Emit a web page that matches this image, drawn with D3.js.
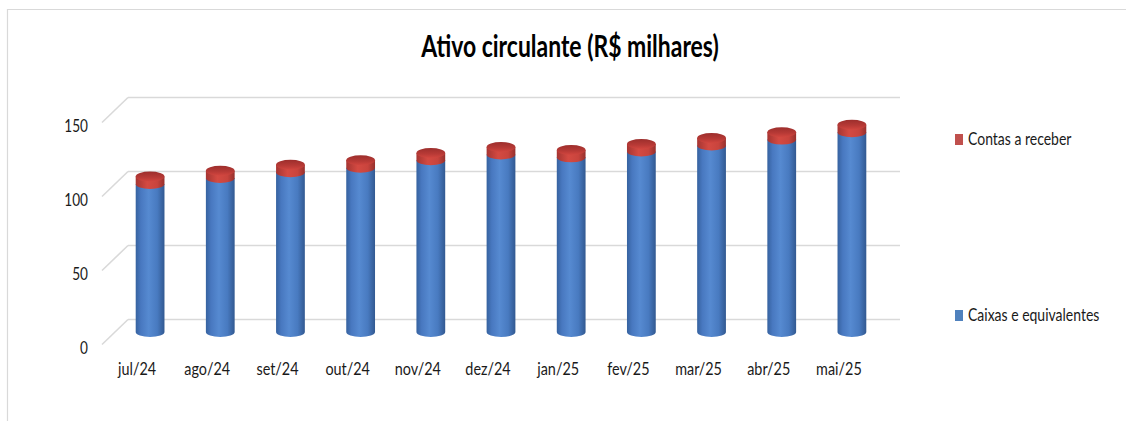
<!DOCTYPE html>
<html>
<head>
<meta charset="utf-8">
<script src="https://cdn.jsdelivr.net/npm/d3@7"></script>
<style>
  body { margin: 0; background: #fff; }
  svg { display: block; }
</style>
</head>
<body>
<svg id="chart" width="1126" height="421"></svg>
<script>
// Months shown along the axis
const categories = ["jul/24", "ago/24", "set/24", "out/24", "nov/24", "dez/24",
                    "jan/25", "fev/25", "mar/25", "abr/25", "mai/25"];
// Stacked series (R$ milhares)
const caixas = [100, 104, 108, 111, 116, 120, 118, 122, 126, 130, 135];
const contas = [5, 5, 5, 5, 5, 5, 5, 5, 5, 5, 5];
const seriesNames = ["Caixas e equivalentes", "Contas a receber"];
const yTicks = [0, 50, 100, 150];
const titleText = "Ativo circulante (R$ milhares)";

const svg = d3.select("#chart");
const W = 1126, H = 421;
const FONT = "Lato, Carlito, 'Open Sans', sans-serif";
const SX = 0.8; // horizontal squeeze applied to text

// back wall geometry and depth offset of the 3D box
const x = d3.scaleBand().domain(categories).range([128, 900]);
const y = d3.scaleLinear().domain([0, 150]).range([319.5, 97.5]);
const depth = { dx: -26, dy: 25 };
const barW = x.bandwidth() * 0.41;
const ry = 5;

// chart frame
svg.append("path")
  .attr("d", `M7.5,${H} L7.5,9.5 L${W},9.5`)
  .attr("fill", "none").attr("stroke", "#d9d9d9").attr("stroke-width", 1.2);

// defs: gradients
const defs = svg.append("defs");
function hGrad(id, stops) {
  const g = defs.append("linearGradient").attr("id", id)
    .attr("x1", "0%").attr("x2", "100%").attr("y1", "0%").attr("y2", "0%");
  stops.forEach(([o, c]) => g.append("stop").attr("offset", o).attr("stop-color", c));
}
hGrad("gBlue", [["0%", "#36629f"], ["18%", "#4878c0"], ["45%", "#568ad1"], ["75%", "#487ac0"], ["100%", "#325991"]]);
hGrad("gRed", [["0%", "#a53532"], ["40%", "#d44a42"], ["75%", "#c8443d"], ["100%", "#96302d"]]);
const capG = defs.append("linearGradient").attr("id", "gCap")
  .attr("x1", "0%").attr("x2", "0%").attr("y1", "0%").attr("y2", "100%");
capG.append("stop").attr("offset", "0%").attr("stop-color", "#9c2e2c");
capG.append("stop").attr("offset", "60%").attr("stop-color", "#b83a36");
capG.append("stop").attr("offset", "100%").attr("stop-color", "#d2463f");

// gridlines: back wall and left side wall
const grid = svg.append("g").attr("stroke", "#d9d9d9").attr("stroke-width", 1.6).attr("fill", "none");
yTicks.forEach(t => {
  const yy = y(t);
  grid.append("path").attr("d", `M${x.range()[0]},${yy} L${x.range()[1]},${yy}`);
  grid.append("path").attr("d", `M${x.range()[0]},${yy} L${x.range()[0] + depth.dx},${yy + depth.dy}`);
});

// squeezed text helper
function label(parent, px, py, str, size, anchor, weight, fill, sx) {
  const g = parent.append("g").attr("transform", `translate(${px},${py}) scale(${sx || SX},1)`);
  g.append("text").text(str)
    .attr("font-family", FONT).attr("font-size", size)
    .attr("font-weight", weight || "normal")
    .attr("text-anchor", anchor).attr("fill", fill || "#1a1a1a");
  return g;
}

// value axis labels on the front plane
yTicks.forEach(t => {
  label(svg, 88, y(t) + depth.dy + 9, String(t), 17, "end");
});

// category labels on the front plane
categories.forEach(c => {
  label(svg, x(c) + x.bandwidth() / 2 + depth.dx, 375, c, 18, "middle");
});

// cylinders, placed half way into the box depth
function cylinder(g, cx, v0, v1, fill, withCap) {
  const rx = barW / 2;
  const yb = y(v0) + depth.dy / 2;
  const yt = y(v1) + depth.dy / 2;
  g.append("path")
    .attr("d", `M${cx - rx},${yt} L${cx - rx},${yb} A${rx},${ry} 0 0 0 ${cx + rx},${yb} L${cx + rx},${yt} Z`)
    .attr("fill", fill);
  if (withCap) {
    g.append("ellipse").attr("cx", cx).attr("cy", yt).attr("rx", rx).attr("ry", ry)
      .attr("fill", "url(#gCap)");
  }
}

const bars = svg.append("g");
categories.forEach((c, i) => {
  const cx = x(c) + x.bandwidth() / 2 + depth.dx / 2;
  const g = bars.append("g");
  cylinder(g, cx, 0, caixas[i], "url(#gBlue)", false);
  cylinder(g, cx, caixas[i], caixas[i] + contas[i], "url(#gRed)", true);
});

// legend
const legend = [
  { name: seriesNames[1], color: "#C0504D", y: 145 },
  { name: seriesNames[0], color: "#4F81BD", y: 321 }
];
legend.forEach(d => {
  svg.append("rect").attr("x", 955).attr("y", d.y - 11).attr("width", 8).attr("height", 11)
    .attr("fill", d.color);
  label(svg, 968, d.y, d.name, 17.5, "start");
});

// title
label(svg, 570, 57, titleText, 30, "middle", "bold", "#000", 0.765);
</script>
</body>
</html>
